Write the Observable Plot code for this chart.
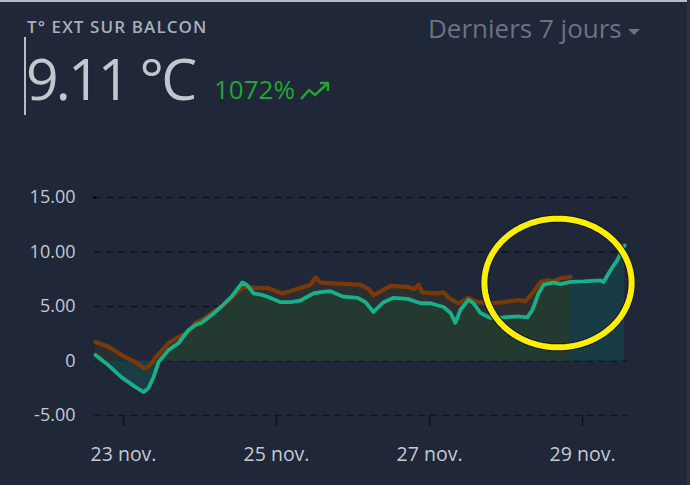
<!DOCTYPE html>
<html>
<head>
<meta charset="utf-8">
<script src="https://cdn.jsdelivr.net/npm/d3@7"></script>
<script src="https://cdn.jsdelivr.net/npm/@observablehq/plot@0.6"></script>
<style>
  html, body { margin: 0; padding: 0; background: #1f2739; }
  #card { position: relative; width: 690px; height: 485px; overflow: hidden; background: #1f2739; font-family: "Open Sans", "Noto Sans", sans-serif; }
  #topline { position: absolute; left: 0; top: 0; width: 690px; height: 2px; background: #b8bdc4; }
  #rightline { position: absolute; right: 0; top: 0; width: 3px; height: 485px; background: #2a3242; }
  #title { position: absolute; left: 27px; top: 18px; font-size: 17px; font-weight: 600; color: #a9afb8; letter-spacing: 1.1px; line-height: 1; }
  #cursor { position: absolute; left: 24px; top: 37px; width: 2px; height: 78px; background: #b9bec5; }
  #value { position: absolute; left: 26px; top: 50px; font-size: 57px; font-weight: 500; color: #c2c7cd; letter-spacing: -2.8px; line-height: 1; }
  #pct { position: absolute; left: 214px; top: 76px; font-size: 26px; color: #1fa636; line-height: 1; }
  #trend { position: absolute; left: 300px; top: 80px; }
  #range { position: absolute; left: 428px; top: 15px; font-size: 26px; color: #6a7383; line-height: 1; }
  #caret { position: absolute; left: 628px; top: 29px; width: 0; height: 0; border-left: 6px solid transparent; border-right: 6px solid transparent; border-top: 6px solid #6a7383; }
  #chart { position: absolute; left: 0; top: 160px; }
</style>
</head>
<body>
<div id="card">
  <div id="topline"></div>
  <div id="rightline"></div>
  <div id="title">T° EXT SUR BALCON</div>
  <div id="cursor"></div>
  <div id="value">9.11 °C</div>
  <div id="pct">1072%</div>
  <svg id="trend" width="32" height="22" viewBox="0 0 32 22">
    <polyline points="1,19 9,10 15,15 28,3" fill="none" stroke="#1fa636" stroke-width="2.4" stroke-linejoin="round"/>
    <polyline points="20,3 28,3 28,11" fill="none" stroke="#1fa636" stroke-width="2.4" stroke-linejoin="round"/>
  </svg>
  <div id="range">Derniers 7 jours</div>
  <div id="caret"></div>
  <div id="chart"></div>
</div>
<script>
// ---- Data ----
const tealTimes = ["2023-11-22T15:12","2023-11-22T19:18","2023-11-22T23:24","2023-11-23T03:48","2023-11-23T06:18","2023-11-23T07:48","2023-11-23T09:24","2023-11-23T11:00","2023-11-23T14:06","2023-11-23T17:18","2023-11-23T20:24","2023-11-23T22:36","2023-11-24T00:30","2023-11-24T03:36","2023-11-24T06:42","2023-11-24T09:54","2023-11-24T13:18","2023-11-24T14:36","2023-11-24T16:48","2023-11-24T19:00","2023-11-24T21:12","2023-11-25T01:18","2023-11-25T04:24","2023-11-25T07:30","2023-11-25T11:36","2023-11-25T14:24","2023-11-25T16:54","2023-11-25T21:00","2023-11-26T01:24","2023-11-26T03:54","2023-11-26T06:24","2023-11-26T09:36","2023-11-26T12:42","2023-11-26T17:06","2023-11-26T21:12","2023-11-27T00:18","2023-11-27T04:24","2023-11-27T06:36","2023-11-27T08:06","2023-11-27T09:42","2023-11-27T12:12","2023-11-27T13:48","2023-11-27T16:00","2023-11-27T19:06","2023-11-27T23:12","2023-11-28T03:36","2023-11-28T06:42","2023-11-28T08:18","2023-11-28T10:12","2023-11-28T11:48","2023-11-28T14:54","2023-11-28T17:06","2023-11-28T20:12","2023-11-29T00:18","2023-11-29T05:36","2023-11-29T06:36","2023-11-29T08:48","2023-11-29T11:00","2023-11-29T13:12"];
const tealValues = [0.55,-0.4,-1.5,-2.4,-2.85,-2.5,-1.5,-0.1,1.0,1.65,2.85,3.3,3.5,4.2,5.0,5.9,7.2,7.0,6.2,6.1,5.9,5.4,5.4,5.55,6.2,6.35,6.4,5.9,5.8,5.4,4.5,5.4,5.8,5.7,5.3,5.3,4.95,4.4,3.5,4.7,5.6,5.3,4.4,3.95,4.0,4.1,4.0,4.7,6.2,7.0,7.2,7.06,7.25,7.3,7.4,7.25,8.35,9.3,10.6];

const brownTimes = ["2023-11-22T15:12","2023-11-22T19:18","2023-11-22T23:24","2023-11-23T03:48","2023-11-23T06:18","2023-11-23T07:48","2023-11-23T10:00","2023-11-23T11:36","2023-11-23T14:06","2023-11-23T17:18","2023-11-23T20:24","2023-11-23T22:36","2023-11-24T00:30","2023-11-24T03:36","2023-11-24T06:42","2023-11-24T09:54","2023-11-24T13:00","2023-11-24T14:36","2023-11-24T16:48","2023-11-24T21:12","2023-11-25T01:54","2023-11-25T07:30","2023-11-25T10:42","2023-11-25T12:12","2023-11-25T13:48","2023-11-25T19:06","2023-11-26T02:18","2023-11-26T04:54","2023-11-26T06:24","2023-11-26T11:48","2023-11-26T17:06","2023-11-26T19:18","2023-11-26T20:30","2023-11-26T21:48","2023-11-27T02:30","2023-11-27T04:24","2023-11-27T06:00","2023-11-27T09:06","2023-11-27T12:12","2023-11-27T15:06","2023-11-27T19:06","2023-11-27T23:12","2023-11-28T03:36","2023-11-28T06:06","2023-11-28T08:18","2023-11-28T10:48","2023-11-28T13:00","2023-11-28T14:54","2023-11-28T17:06","2023-11-28T20:12"];
const brownValues = [1.75,1.3,0.55,-0.1,-0.65,-0.55,0.3,0.8,1.65,2.2,2.65,3.5,3.75,4.4,4.95,5.8,6.7,6.9,6.7,6.7,6.2,6.7,7.0,7.65,7.2,7.1,7.0,6.6,6.05,6.9,6.8,6.6,7.0,6.3,6.2,6.3,5.8,5.3,5.8,5.4,5.3,5.4,5.6,5.5,6.2,7.25,7.4,7.3,7.6,7.7];

const xTickDates = ["2023-11-23","2023-11-25","2023-11-27","2023-11-29"];
const xTickLabels = ["23 nov.","25 nov.","27 nov.","29 nov."];
const yTickValues = [-5, 0, 5, 10, 15];
const yTickLabels = ["-5.00","0","5.00","10.00","15.00"];

// annotation ellipse (data units)
const ringCenterTime = "2023-11-28T16:18";
const ringCenterValue = 7.16;
const ringHalfWidthHours = 23.1;
const ringHalfHeight = 5.9;

const xDomain = ["2023-11-22T14:54","2023-11-29T14:06"];

// ---- Build tables ----
const P = s => new Date(s + "Z");
const teal = tealTimes.map((t, i) => ({t: P(t), v: tealValues[i]}));
const brown = brownTimes.map((t, i) => ({t: P(t), v: brownValues[i]}));
const brownEnd = brown[brown.length - 1].t;
const tealOverlap = teal.filter(d => d.t <= brownEnd);
const ticks = xTickDates.map(s => new Date(s + "T00:00Z"));
const tickLabel = d => xTickLabels[ticks.findIndex(t => +t === +d)];
const yLabel = v => yTickLabels[yTickValues.indexOf(v)];

const c0 = P(ringCenterTime).getTime();
const ring = d3.range(0, 361, 3).map(a => {
  const r = a * Math.PI / 180;
  return {t: new Date(c0 + Math.cos(r) * ringHalfWidthHours * 3600e3), v: ringCenterValue + Math.sin(r) * ringHalfHeight};
});

const chart = Plot.plot({
  width: 690,
  height: 325,
  marginLeft: 94,
  marginRight: 63,
  marginTop: 37,
  marginBottom: 70,
  style: {background: "transparent", fontFamily: "'Open Sans', 'Noto Sans', sans-serif", overflow: "visible"},
  x: {type: "utc", domain: xDomain.map(P)},
  y: {domain: [-5, 15]},
  marks: [
    Plot.ruleY(yTickValues, {stroke: "#10151d", strokeWidth: 1.5, strokeDasharray: "7,5"}),
    Plot.areaY(brown, {x: "t", y1: 0, y2: "v", fill: "#2b2f32"}),
    Plot.areaY(teal, {x: "t", y1: 0, y2: d => Math.max(d.v, 0), fill: "#183c46"}),
    Plot.areaY(tealOverlap, {x: "t", y1: 0, y2: d => Math.max(d.v, 0), fill: "#243a31"}),
    Plot.areaY(teal, {x: "t", y1: 0, y2: d => Math.min(d.v, 0), fill: "#1a3d44"}),
    Plot.line(brown, {x: "t", y: "v", stroke: "#7a3a07", strokeWidth: 4.2}),
    Plot.line(teal, {x: "t", y: "v", stroke: "#17b088", strokeWidth: 3.8}),
    Plot.dot([{t: P(xDomain[0]), v: yTickValues[yTickValues.length - 1]}], {x: "t", y: "v", r: 1.6, fill: "#000"}),
    Plot.line(ring, {x: "t", y: "v", stroke: "#0b1838", strokeWidth: 8}),
    Plot.line(ring, {x: "t", y: "v", stroke: "#ffee00", strokeWidth: 6}),
    Plot.axisX({ticks, tickFormat: tickLabel, tickSize: 11, tickPadding: 21, fontSize: 19.5, fill: "#c5cad1", stroke: "#0e131a", strokeWidth: 1.5, label: null}),
    Plot.axisY({ticks: yTickValues, tickFormat: yLabel, tickSize: 0, tickPadding: 19, fontSize: 18, fill: "#c5cad1", label: null})
  ]
});
document.getElementById("chart").appendChild(chart);
</script>
</body>
</html>
